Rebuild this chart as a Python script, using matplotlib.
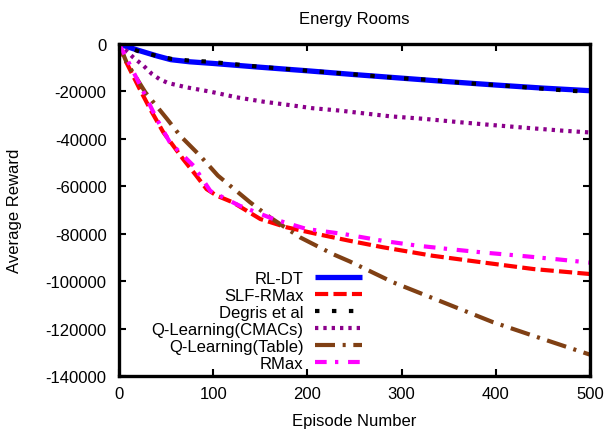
import matplotlib
matplotlib.use("Agg")
import matplotlib.pyplot as plt

plt.rcParams['font.family'] = ['Liberation Sans', 'DejaVu Sans']
plt.rcParams['lines.scale_dashes'] = False
plt.rcParams['axes.unicode_minus'] = False

# Data
rldt_x = [0, 20, 40, 55, 75, 100, 150, 200, 250, 300, 350, 400, 450, 500]
rldt_y = [0, -2600, -5000, -6600, -7500, -8200, -9800, -11300, -12900, -14400, -15900, -17300, -18600, -19700]

slf_x = [0, 6, 22, 33, 47, 68, 82, 93, 104, 121, 150, 178, 210, 245, 280, 333, 386, 440, 500]
slf_y = [0, -6300, -19000, -27400, -37200, -48500, -55500, -61200, -64000, -66800, -73800, -77300,
         -80100, -83000, -85700, -89300, -92100, -94900, -97000]

degris_x = [0, 22, 39, 56, 75, 93, 112, 148, 185, 222, 258, 295, 332, 367, 404, 441, 477, 500]
degris_y = [0, -3250, -4900, -6300, -7000, -7400, -8100, -9560, -10800, -11950, -13100, -14300,
            -15200, -16450, -17400, -18550, -19700, -20100]

cmac_x = [0, 15, 26, 35, 43, 52, 72, 97, 125, 153, 180, 206, 235, 250, 288, 325, 362, 397, 434, 471, 500]
cmac_y = [0, -5600, -9150, -12650, -14800, -16450, -18300, -20100, -22500, -24300, -25700, -27100,
          -28100, -28800, -30500, -31600, -33000, -34200, -35400, -36550, -37300]

qtab_x = [0, 8, 28, 51, 65, 86, 105, 139, 160, 192, 227, 245, 291, 344, 397, 450, 500]
qtab_y = [0, -7700, -20400, -31600, -38700, -47100, -55500, -66700, -73000, -81500, -88600, -91700,
          -100500, -108900, -117300, -124400, -131000]

rmax_x = [0, 8, 26, 40, 54, 79, 97, 128, 164, 199, 238, 280, 316, 351, 386, 426, 463, 500]
rmax_y = [0, -6000, -20200, -31600, -41500, -51300, -62000, -68200, -73800, -78000, -80100, -83000,
          -85000, -86500, -87900, -89300, -90700, -92200]

labels = ['RL-DT', 'SLF-RMax', 'Degris et al', 'Q-Learning(CMACs)', 'Q-Learning(Table)', 'RMax']

fig = plt.figure(figsize=(6.07, 4.31), dpi=100)
ax = fig.add_axes([119/607, 1 - 377/431, (590 - 119)/607, (377 - 45)/431])

lw = 3.0
ax.plot(rldt_x, rldt_y, color='#0000ff', lw=3.8, solid_capstyle='butt', label=labels[0])
ax.plot(slf_x, slf_y, color='#ff0000', lw=lw, dashes=(9.5, 3.8), dash_capstyle='butt', label=labels[1])
ax.plot(degris_x, degris_y, color='#000000', lw=lw, dashes=(3.2, 9.0), dash_capstyle='butt', label=labels[2])
ax.plot(cmac_x, cmac_y, color='#8b008b', lw=lw, dashes=(2.4, 3.6), dash_capstyle='butt', label=labels[3])
ax.plot(qtab_x, qtab_y, color='#804014', lw=lw, dashes=(14.4, 5.5, 2.2, 5.5), dash_capstyle='butt', label=labels[4])
ax.plot(rmax_x, rmax_y, color='#ff00ff', lw=lw, dashes=(8.4, 6.0, 2.4, 7.0), dash_capstyle='butt', label=labels[5])

ax.set_xlim(0, 500)
ax.set_ylim(-140000, 0)
ax.set_xticks([0, 100, 200, 300, 400, 500])
ax.set_yticks(range(-140000, 1, 20000))
ax.tick_params(direction='in', length=5, width=1.5, top=True, right=True, labelsize=12)
ax.tick_params(axis='y', pad=9)
ax.tick_params(axis='x', pad=7)
for s in ax.spines.values():
    s.set_linewidth(2.4)

ax.set_title('Energy Rooms', fontsize=12, pad=15)
ax.set_xlabel('Episode Number', fontsize=12, labelpad=9)
ax.set_ylabel('Average Reward', fontsize=12, labelpad=17)

leg = ax.legend(loc='lower right', bbox_to_anchor=(0.516, 0.015), frameon=False, fontsize=12,
                markerfirst=False, handlelength=2.8, handletextpad=0.7, labelspacing=0.12,
                borderaxespad=0.0, borderpad=0.0)
for col in leg._legend_handle_box.get_children():
    col.align = 'right'

fig.savefig('out.png', dpi=100)
